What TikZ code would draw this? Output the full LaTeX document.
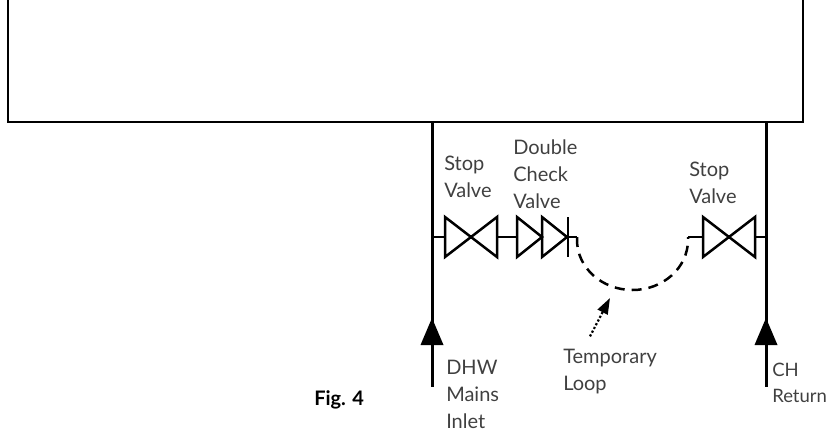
\documentclass[tikz,border=0pt]{standalone}
\usepackage{fontspec}
\setmainfont{Lato}
\usetikzlibrary{arrows.meta}

\begin{document}
\begin{tikzpicture}[x=1pt, y=-1pt, line width=2.5pt,
  lbl/.style={anchor=west, align=left, inner sep=0pt, text=black!75,
    font=\fontsize{20}{27}\selectfont},
  stopvalve/.pic={\draw[line join=miter] (-26,-20) -- (26,20) -- (26,-20) -- (-26,20) -- cycle;},
  checkvalve/.pic={\draw[line join=miter] (0,-20) -- (25,0) -- (0,20) -- cycle;},
  flowhead/.pic={\fill (0,0) -- (-11.5,27) -- (11.5,27) -- cycle;}]
\useasboundingbox (0,0) rectangle (830,432);

% tank
\draw (8,0) -- (8,122) -- (803,122) -- (803,0);

\coordinate (topL) at (432,122); \coordinate (endL) at (432,387);
\coordinate (topR) at (766,122); \coordinate (endR) at (766,387);
\draw [line width=3pt] (topL) -- (endL);
\draw [line width=3pt] (topR) -- (endR);
\pic at (432,318) {flowhead};
\pic at (766,318) {flowhead};

% valves
\coordinate (lsvW) at (445,237); \coordinate (lsvE) at (497,237);
\coordinate (dcvW) at (517,237); \coordinate (dcvE) at (568,237);
\coordinate (loopL) at (577,237); \coordinate (loopR) at (688,237);
\coordinate (rsvW) at (703,237); \coordinate (rsvE) at (755,237);

\draw (topL |- lsvW) -- (lsvW);
\pic at (471,237) {stopvalve};
\draw (lsvE) -- (dcvW);
\pic at (517,237) {checkvalve};
\pic at (542,237) {checkvalve};
\draw (dcvE) ++(0,-20) -- ++(0,40);
\draw (dcvE) -- (loopL);
\draw [dash pattern=on 10pt off 7pt] (loopL) -- ++(0,3)
  arc [start angle=180, end angle=0, x radius=55.5, y radius=50] -- (loopR);
\draw (loopR) -- (rsvW);
\pic at (729,237) {stopvalve};
\draw (rsvE) -- (topR |- rsvE);

% labels
\node [lbl] (sv1) at (443,176.5) {Stop\\Valve};
\node [lbl] (dcv) at (512,174) {Double\\Check\\Valve};
\node [lbl] (sv2) at (688,182.5) {Stop\\Valve};
\node [lbl] (dhw) at (445,394) {DHW\\Mains\\Inlet};
\node [lbl, font=\fontsize{18.5}{26}\selectfont] (chr) at (771,383) {CH\\Return};
\node [lbl] (tmp) at (562,372) {Temporary\\Loop};
\node [lbl, text=black, font=\fontsize{20}{27}\selectfont\bfseries] (fig) at (313,400) {Fig. 4};
\coordinate (loopB) at (610,298);
\draw [dotted, line width=2.2pt, -{Triangle[length=16pt,width=11pt]}] (tmp.north -| 590,0) ++(0,-12) -- (loopB);
\end{tikzpicture}
\end{document}
